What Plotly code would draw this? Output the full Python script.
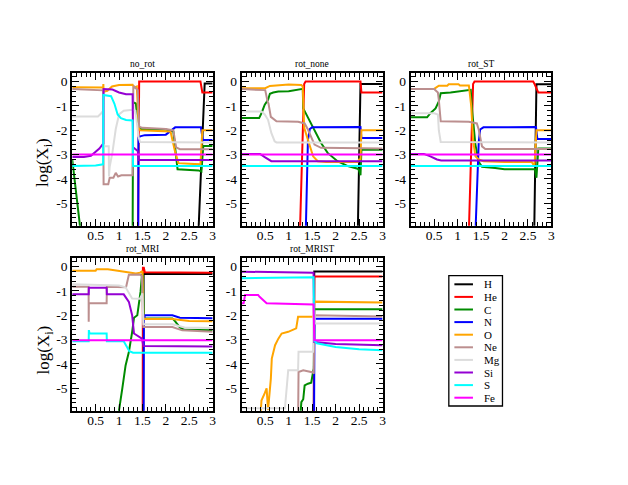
import plotly.graph_objects as go

# values; LOW = below the plotted range (clipped)
LOW = -6.5

SPECIES = ["H", "He", "C", "N", "O", "Ne", "Mg", "Si", "S", "Fe"]
COLORS = ["#000000", "#ff0000", "#008b00", "#0000ff", "#ffa500",
          "#bc8f8f", "#dcdcdc", "#9400d3", "#00ffff", "#ff00ff"]

PANEL_TITLES = ["no_rot", "rot_none", "rot_ST", "rot_MRI", "rot_MRIST"]

X_TICKS = [0.5, 1, 1.5, 2, 2.5, 3]
X_TICK_TEXT = ["0.5", "1", "1.5", "2", "2.5", "3"]
Y_TICKS = [0, -1, -2, -3, -4, -5]
Y_TICK_TEXT = ["0", "-1", "-2", "-3", "-4", "-5"]

no_rot = {
    "H": ([2.69, 2.83, 3.0], [LOW, -0.08, -0.08]),
    "He": ([1.405, 1.43, 2.74, 2.78, 3.0], [LOW, 0.0, 0.0, -0.45, -0.45]),
    "C": ([0, 0.2, 1.29, 1.30, 1.36, 1.41, 1.45, 2.0, 2.16, 2.25, 2.7, 2.76, 2.8, 3.0],
          [-3.2, LOW, LOW, -0.85, -0.9, -1.85, -1.95, -1.97, -2.05, -3.6, -3.65, -3.7, -2.65, -2.65]),
    "N": ([1.41, 1.415, 1.45, 1.55, 2.0, 2.12, 2.2, 2.75, 2.79, 3.0],
          [LOW, -2.3, -2.25, -2.2, -2.18, -2.0, -1.88, -1.88, -2.4, -2.4]),
    "O": ([0, 0.66, 0.665, 0.67, 0.75, 0.85, 1.0, 1.29, 1.32, 1.38, 1.42, 1.45, 2.1, 2.2, 2.27, 2.7, 2.74, 2.78, 3.0],
          [-0.23, -0.24, -0.1, -0.42, -0.38, -0.2, -0.14, -0.13, -0.25, -0.2, -1.9, -2.0, -2.05, -2.9, -3.35, -3.4, -3.4, -2.0, -2.0]),
    "Ne": ([0, 0.66, 0.67, 0.77, 0.8, 0.88, 0.93, 0.98, 1.05, 1.29, 1.305, 1.32, 1.4, 1.43, 1.5, 2.0, 2.16, 2.22, 2.3, 3.0],
           [-0.31, -0.36, -4.22, -4.22, -3.95, -3.95, -3.75, -3.9, -3.85, -3.85, -0.25, -0.2, -0.35, -1.85, -1.9, -1.95, -2.0, -2.7, -2.78, -2.78]),
    "Mg": ([0, 0.55, 0.62, 0.665, 0.67, 0.78, 0.785, 0.8, 0.86, 0.93, 1.0, 1.1, 1.29, 1.35, 1.42, 1.45, 3.0],
           [-1.43, -1.43, -1.3, -1.18, -2.66, -2.66, -3.9, -3.5, -2.9, -1.95, -1.35, -1.2, -1.16, -1.2, -2.3, -2.48, -2.5]),
    "Si": ([0, 0.25, 0.4, 0.5, 0.58, 0.64, 0.665, 0.67, 0.86, 1.0, 1.15, 1.29, 1.30, 1.40, 1.42, 3.0],
           [-3.1, -3.1, -3.05, -2.9, -2.75, -2.6, -2.55, -0.31, -0.33, -0.45, -0.52, -0.52, -2.7, -2.85, -3.22, -3.22]),
    "S": ([0, 0.5, 0.66, 0.665, 0.83, 0.9, 0.97, 1.04, 1.15, 1.29, 1.30, 3.0],
          [-3.47, -3.45, -3.4, -0.55, -0.6, -0.9, -1.35, -1.5, -1.58, -1.6, -3.47, -3.47]),
    "Fe": ([0, 3.0], [-3.0, -3.0]),
}

rot_none = {
    "H": ([2.47, 2.53, 3.0], [LOW, -0.1, -0.1]),
    "He": ([1.235, 1.33, 1.36, 2.53, 2.55, 3.0], [LOW, -0.1, 0.0, 0.0, -0.45, -0.45]),
    "C": ([0, 0.37, 0.42, 0.49, 0.56, 0.6, 0.67, 0.78, 1.0, 1.2, 1.3, 1.31, 1.4, 1.55, 1.69, 1.83, 2.04, 2.26, 2.47, 2.5, 2.53, 2.55, 3.0],
          [-1.5, -1.5, -1.3, -0.95, -0.75, -0.5, -0.45, -0.41, -0.4, -0.33, -0.3, -1.1, -1.45, -1.97, -2.52, -2.93, -3.27, -3.47, -3.58, -3.65, -3.85, -2.8, -2.8]),
    "N": ([1.36, 1.41, 1.45, 1.5, 2.53, 2.55, 3.0], [LOW, -2.4, -1.95, -1.88, -1.87, -2.32, -2.32]),
    "O": ([0, 0.5, 0.6, 0.78, 1.0, 1.27, 1.3, 1.33, 1.38, 1.45, 1.52, 1.62, 1.8, 2.0, 2.47, 2.5, 2.53, 2.55, 3.0],
          [-0.27, -0.27, -0.18, -0.14, -0.12, -0.14, -0.2, -1.9, -2.2, -2.66, -3.07, -3.27, -3.3, -3.3, -3.3, -3.2, -3.2, -2.0, -2.0]),
    "Ne": ([0, 0.5, 0.55, 0.57, 0.62, 0.74, 1.2, 1.34, 1.41, 1.55, 1.69, 2.5, 3.0],
           [-0.31, -0.35, -0.82, -0.9, -1.45, -1.63, -1.65, -1.72, -1.97, -2.59, -2.72, -2.75, -2.75]),
    "Mg": ([0, 0.42, 0.49, 0.56, 0.63, 0.7, 0.74, 3.0], [-1.23, -1.23, -1.35, -1.57, -2.11, -2.45, -2.5, -2.5]),
    "Si": ([0, 0.39, 0.49, 0.63, 3.0], [-2.97, -2.97, -3.1, -3.27, -3.27]),
    "S": ([0, 3.0], [-3.47, -3.47]),
    "Fe": ([0, 3.0], [-3.0, -3.0]),
}

rot_ST = {
    "H": ([2.63, 2.68, 3.0], [LOW, -0.11, -0.11]),
    "He": ([1.235, 1.33, 1.36, 2.61, 2.64, 2.72, 3.0], [LOW, -0.1, 0.0, 0.0, -0.1, -0.45, -0.45]),
    "C": ([0, 0.35, 0.42, 0.53, 0.6, 0.64, 0.85, 1.02, 1.28, 1.31, 1.38, 1.45, 1.52, 1.8, 2.0, 2.25, 2.61, 2.65, 2.68, 2.72, 3.0],
          [-1.47, -1.47, -1.3, -1.1, -0.82, -0.48, -0.45, -0.41, -0.34, -1.2, -2.6, -3.3, -3.5, -3.55, -3.6, -3.6, -3.58, -3.6, -3.95, -2.75, -2.75]),
    "N": ([1.375, 1.45, 1.48, 1.55, 2.67, 2.7, 3.0], [LOW, -2.5, -1.97, -1.88, -1.87, -2.36, -2.36]),
    "O": ([0, 0.5, 0.6, 0.78, 0.81, 1.02, 1.05, 1.24, 1.29, 1.33, 1.38, 1.45, 1.55, 2.0, 2.58, 2.61, 2.64, 2.68, 3.0],
          [-0.3, -0.3, -0.17, -0.17, -0.11, -0.11, -0.16, -0.16, -1.0, -2.4, -3.07, -3.2, -3.27, -3.3, -3.3, -3.4, -3.4, -2.0, -2.0]),
    "Ne": ([0, 0.5, 0.58, 0.6, 0.64, 1.24, 1.41, 1.45, 1.52, 1.59, 3.0],
           [-0.31, -0.31, -0.45, -0.75, -1.63, -1.65, -1.72, -1.97, -2.66, -2.77, -2.77]),
    "Mg": ([0, 0.5, 0.58, 0.6, 0.64, 3.0], [-1.3, -1.3, -1.35, -2.0, -2.48, -2.5]),
    "Si": ([0, 0.28, 0.42, 0.56, 0.65, 3.0], [-2.97, -2.97, -3.07, -3.2, -3.24, -3.24]),
    "S": ([0, 3.0], [-3.47, -3.47]),
    "Fe": ([0, 3.0], [-3.0, -3.0]),
}

rot_MRI = {
    "H": ([1.515, 1.525, 3.0], [LOW, -0.31, -0.31]),
    "He": ([1.505, 1.51, 1.53, 1.55, 3.0], [LOW, -0.05, -0.05, -0.23, -0.25]),
    "C": ([0.98, 1.0, 1.07, 1.14, 1.21, 1.25, 1.28, 1.32, 1.39, 1.42, 1.46, 1.49, 1.51, 1.53, 2.14, 2.2, 2.3, 2.4, 3.0],
          [LOW, -5.9, -5.0, -4.06, -3.51, -3.1, -2.69, -2.1, -2.0, -1.58, -1.03, -0.34, -0.3, -2.13, -2.13, -2.25, -2.5, -2.6, -2.62]),
    "N": ([1.525, 1.53, 1.55, 2.14, 2.3, 3.0], [LOW, -2.27, -2.0, -2.0, -2.1, -2.12]),
    "O": ([0, 0.5, 0.52, 0.76, 1.08, 1.36, 1.45, 1.5, 1.52, 1.55, 2.14, 2.5, 3.0],
          [-0.17, -0.17, -0.11, -0.11, -0.2, -0.28, -0.25, -0.18, -2.13, -2.15, -2.15, -2.24, -2.25]),
    "Ne": ([0, 0.35, 0.352, 0.355, 0.735, 0.74, 1.15, 1.21, 1.45, 1.49, 1.52, 2.14, 2.35, 3.0],
           [-0.83, -0.83, -2.27, -1.51, -1.51, -0.83, -0.85, -0.34, -0.33, -0.4, -2.48, -2.48, -2.62, -2.68]),
    "Mg": ([0, 1.0, 1.14, 1.28, 1.45, 1.5, 1.52, 2.14, 2.4, 3.0],
           [-0.73, -0.78, -0.85, -1.31, -1.32, -1.1, -2.37, -2.37, -2.5, -2.52]),
    "Si": ([0, 0.352, 0.355, 0.735, 0.74, 1.1, 1.21, 1.28, 1.32, 1.42, 1.49, 1.52, 3.0],
           [-1.14, -1.14, -0.87, -0.87, -1.14, -1.14, -1.45, -2.0, -2.75, -2.89, -2.96, -3.26, -3.28]),
    "S": ([0, 0.352, 0.355, 0.37, 0.735, 0.74, 1.1, 1.17, 1.22, 1.3, 3.0],
          [-3.07, -3.07, -2.61, -2.75, -2.75, -3.07, -3.07, -3.3, -3.48, -3.54, -3.54]),
    "Fe": ([0, 3.0], [-3.03, -3.03]),
}

rot_MRIST = {
    "H": ([1.535, 1.545, 3.0], [LOW, -0.2, -0.2]),
    "He": ([1.535, 1.545, 3.0], [LOW, -0.41, -0.41]),
    "C": ([1.235, 1.27, 1.31, 1.34, 1.41, 1.48, 1.52, 1.535, 1.545, 3.0],
          [LOW, -5.57, -5.45, -4.88, -4.81, -4.77, -4.33, -4.2, -1.75, -1.75]),
    "N": ([1.54, 1.55, 3.0], [LOW, -2.14, -2.14]),
    "O": ([0.39, 0.42, 0.49, 0.53, 0.56, 0.58, 0.62, 0.64, 0.71, 0.78, 0.85, 0.99, 1.16, 1.2, 1.24, 1.53, 1.545, 3.0],
          [LOW, -5.5, -5.2, -5.0, -5.9, -5.5, -4.6, -3.78, -3.23, -2.96, -2.75, -2.68, -2.54, -2.06, -2.06, -2.06, -1.44, -1.48]),
    "Ne": ([1.2, 1.21, 1.31, 1.52, 1.535, 1.545, 3.0], [LOW, -4.33, -4.26, -4.35, -4.4, -2.0, -2.05]),
    "Mg": ([0, 0.92, 0.99, 1.2, 1.21, 1.52, 1.53, 1.545, 1.56, 3.0],
           [-5.82, -5.82, -4.26, -4.26, -3.5, -3.5, -1.3, -2.3, -2.34, -2.34]),
    "Si": ([0, 1.53, 1.545, 2.0, 3.0], [-0.21, -0.25, -3.1, -3.18, -3.23]),
    "S": ([0, 1.0, 1.53, 1.545, 1.6, 2.0, 2.5, 3.0], [-0.48, -0.46, -0.44, -3.05, -3.15, -3.3, -3.4, -3.44]),
    "Fe": ([0, 0.04, 0.07, 0.35, 0.38, 0.53, 1.53, 1.545, 3.0],
           [-1.51, -1.51, -1.17, -1.17, -1.24, -1.51, -1.56, -3.03, -3.03]),
}

PANELS = [no_rot, rot_none, rot_ST, rot_MRI, rot_MRIST]

W, H = 628, 485
# panel frames in pixels (left, right, top, bottom)
COL_X = [(72.7, 214.0), (243.3, 385.0), (413.3, 555.0)]
ROW_Y = [(73.3, 225.7), (258.3, 410.7)]
PANEL_POS = [(0, 0), (0, 1), (0, 2), (1, 0), (1, 1)]

SERIF = "Liberation Serif, Times New Roman, serif"


def px(x):
    return x / W


def py(y):
    return 1 - y / H


fig = go.Figure()
layout = dict(width=W, height=H, margin=dict(l=0, r=0, t=0, b=0),
              paper_bgcolor="white", plot_bgcolor="white", showlegend=False)
annotations = []
shapes = []

for i, (data, title, (r, c)) in enumerate(zip(PANELS, PANEL_TITLES, PANEL_POS)):
    n = "" if i == 0 else str(i + 1)
    x0, x1 = COL_X[c]
    yt, yb = ROW_Y[r]
    for sp, col in zip(SPECIES, COLORS):
        xs, ys = data[sp]
        fig.add_trace(go.Scatter(x=xs, y=ys, mode="lines", name=sp,
                                 line=dict(color=col, width=2),
                                 xaxis="x" + n, yaxis="y" + n, hoverinfo="skip"))
    layout["xaxis" + n] = dict(
        domain=[px(x0), px(x1)], anchor="y" + n, range=[0, 3],
        tickmode="array", tickvals=X_TICKS, ticktext=X_TICK_TEXT,
        ticks="inside", ticklen=7, tickwidth=1.3, tickcolor="black",
        ticklabelstandoff=-4,
        minor=dict(tickmode="linear", tick0=0, dtick=0.1, ticks="inside",
                   ticklen=4, tickwidth=1, tickcolor="black"),
        showline=True, linewidth=2, linecolor="black", mirror="allticks",
        showgrid=False, zeroline=False,
        tickfont=dict(family=SERIF, size=13.5, color="black"))
    layout["yaxis" + n] = dict(
        domain=[py(yb), py(yt)], anchor="x" + n, range=[-5.92, 0.34],
        tickmode="array", tickvals=Y_TICKS, ticktext=Y_TICK_TEXT,
        ticks="inside", ticklen=7, tickwidth=1.3, tickcolor="black",
        minor=dict(tickmode="linear", tick0=0, dtick=0.2, ticks="inside",
                   ticklen=4, tickwidth=1, tickcolor="black"),
        showline=True, linewidth=2, linecolor="black", mirror="allticks",
        showgrid=False, zeroline=False,
        tickfont=dict(family=SERIF, size=13.5, color="black"))
    annotations.append(dict(text=title, x=px((x0 + x1) / 2), y=py(yt - 2.5),
                            xref="paper", yref="paper", xanchor="center",
                            yanchor="bottom", showarrow=False,
                            font=dict(family=SERIF, size=9.5, color="black")))

# y-axis labels on the left column
for ylab in (162.3, 349.7):
    annotations.append(dict(text="log(X<sub>i</sub>)", x=px(45), y=py(ylab),
                            xref="paper", yref="paper", textangle=-90,
                            xanchor="center", yanchor="middle", showarrow=False,
                            font=dict(family=SERIF, size=17, color="black")))

# legend box drawn by hand (plotly's own legend rows are too tall here)
LEG_L, LEG_R, LEG_T, LEG_B = 451.7, 505.7, 275.7, 406.0
LEG_Y0, LEG_DY = 284.3, 12.6
shapes.append(dict(type="rect", xref="paper", yref="paper",
                   x0=px(LEG_L), x1=px(LEG_R), y0=py(LEG_B), y1=py(LEG_T),
                   line=dict(color="black", width=1.3), fillcolor="white"))
for k, (sp, col) in enumerate(zip(SPECIES, COLORS)):
    yk = LEG_Y0 + k * LEG_DY
    shapes.append(dict(type="line", xref="paper", yref="paper",
                       x0=px(457.3), x1=px(476.0), y0=py(yk), y1=py(yk),
                       line=dict(color=col, width=2)))
    annotations.append(dict(text=sp, x=px(485.0), y=py(yk), xref="paper",
                            yref="paper", xanchor="left", yanchor="middle",
                            showarrow=False,
                            font=dict(family=SERIF, size=11, color="black")))

layout["annotations"] = annotations
layout["shapes"] = shapes
fig.update_layout(**layout)

# drop the page's default 8px body margin so the figure sits at (0, 0)
fig.write_html("out.html", config={"displayModeBar": False},
               post_script="document.body.style.margin = '0';")
